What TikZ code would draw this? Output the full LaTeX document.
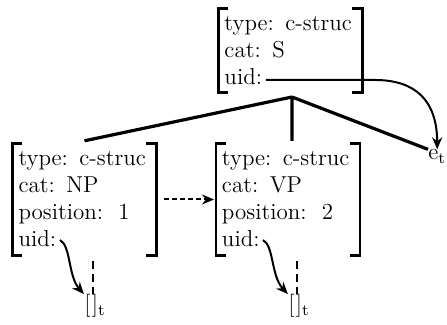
\documentclass[tikz,border=0pt]{standalone}
\usepackage{tikz}
\usetikzlibrary{arrows.meta, positioning}

\begin{document}
\begin{tikzpicture}[x=0.5pt, y=-0.5pt,
        fs/.style={align=left, text width=66pt, inner xsep=3pt, inner ysep=4pt, outer sep=0pt,
            font=\fontsize{11.5}{13.5}\selectfont},
        bracket/.style={draw, line width=1.4pt},
        branch/.style={line width=1.6pt},
        uidarrow/.style={line width=1pt, -{Stealth[length=6pt, width=5pt]}},
        tvar/.style={inner sep=0pt, font=\fontsize{11.5}{13.5}\selectfont}]
        \useasboundingbox (0, 0) rectangle (447, 325);

        \node[fs] at (290.5, 50.5) (s) {type: c-struc\\cat: S\\uid:};
        \node[fs] at (84.5, 199.5) (np) {type: c-struc\\cat: NP\\position:~~1\\uid:};
        \node[fs] at (288, 199.5) (vp) {type: c-struc\\cat: VP\\position:~~2\\uid:};

        \foreach \n in {s, np, vp}
            \draw[bracket] (\n.north west) ++(5pt, 0) -| (\n.south west) -- ++(5pt, 0)
                (\n.north east) ++(-5pt, 0) -| (\n.south east) -- ++(-5pt, 0);

        \node[tvar, anchor=base west] at (428, 160) (e) {e\textsubscript{t}};
        \node[tvar] at (95, 306) (npt) {[\kern0.6pt]\textsubscript{t}};
        \node[tvar] at (299, 306) (vpt) {[\kern0.6pt]\textsubscript{t}};

        \coordinate (apex) at (292, 97);
        \coordinate (suid) at (266, 80);
        \coordinate (npuid) at (60, 240);
        \coordinate (vpuid) at (263, 240);
        \coordinate (npdash) at (93, 261);
        \coordinate (vpdash) at (297, 261);

        % tree
        \draw[branch] (apex) -- ([yshift=1.5pt]np.north)
            (apex) -- ([yshift=1.5pt]apex |- vp.north)
            (apex) -- (e.north west);

        % uid links
        \draw[uidarrow] (suid) -- (375, 80) .. controls (415, 80) and (437, 100) .. (e.north);
        \draw[uidarrow] (npuid) .. controls (71, 246) and (68, 276) .. (npt.north west);
        \draw[uidarrow] (vpuid) .. controls (274, 246) and (271, 276) .. (vpt.north west);
        \draw[line width=1.3pt, dash pattern=on 4pt off 2.5pt] (npdash) -- (npdash |- npt.north);
        \draw[line width=1.3pt, dash pattern=on 4pt off 2.5pt] (vpdash) -- (vpdash |- vpt.north);

        \draw[line width=1pt, dash pattern=on 2.5pt off 1.5pt, -{Stealth[length=6pt, width=5pt]},
            shorten <=4pt, shorten >=1pt] (np) -- (vp);
    \end{tikzpicture}
\end{document}
